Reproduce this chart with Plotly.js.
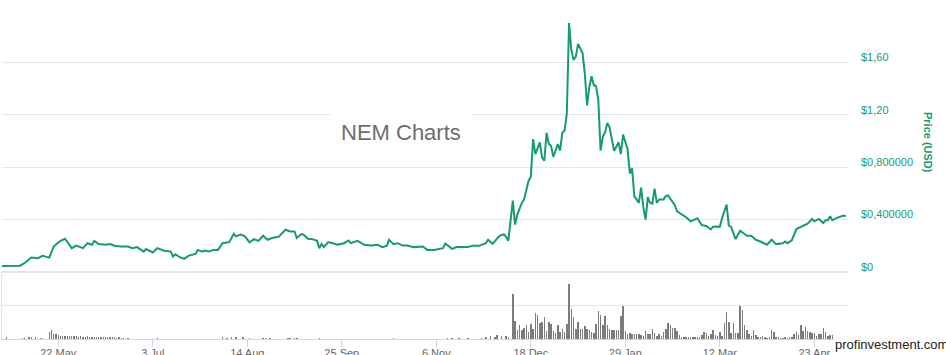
<!DOCTYPE html>
<html><head><meta charset="utf-8">
<script src="https://cdn.plot.ly/plotly-3.0.1.min.js"></script>
<style>html,body{margin:0;padding:0;background:#fff;overflow:hidden}#chart{width:946px;height:355px;}</style>
</head><body><div id="chart"></div>
<script>
const priceDates = ['2017-04-27','2017-05-05','2017-05-07','2017-05-10','2017-05-13','2017-05-15','2017-05-18','2017-05-20','2017-05-23','2017-05-25','2017-05-28','2017-05-30','2017-06-02','2017-06-04','2017-06-06','2017-06-07','2017-06-09','2017-06-12','2017-06-14','2017-06-16','2017-06-19','2017-06-22','2017-06-24','2017-06-26','2017-06-29','2017-06-30','2017-07-03','2017-07-05','2017-07-08','2017-07-11','2017-07-12','2017-07-13','2017-07-15','2017-07-17','2017-07-19','2017-07-22','2017-07-23','2017-07-25','2017-07-26','2017-07-28','2017-07-30','2017-08-01','2017-08-03','2017-08-06','2017-08-08','2017-08-09','2017-08-11','2017-08-13','2017-08-15','2017-08-17','2017-08-19','2017-08-21','2017-08-23','2017-08-25','2017-08-28','2017-08-31','2017-09-02','2017-09-04','2017-09-05','2017-09-07','2017-09-08','2017-09-10','2017-09-12','2017-09-14','2017-09-15','2017-09-16','2017-09-17','2017-09-19','2017-09-21','2017-09-23','2017-09-26','2017-09-28','2017-09-29','2017-10-02','2017-10-05','2017-10-08','2017-10-11','2017-10-13','2017-10-15','2017-10-16','2017-10-18','2017-10-20','2017-10-22','2017-10-24','2017-10-27','2017-10-31','2017-11-02','2017-11-05','2017-11-09','2017-11-10','2017-11-13','2017-11-15','2017-11-20','2017-11-22','2017-11-25','2017-11-28','2017-11-29','2017-12-01','2017-12-04','2017-12-06','2017-12-07','2017-12-08','2017-12-10','2017-12-11','2017-12-12','2017-12-14','2017-12-15','2017-12-17','2017-12-18','2017-12-19','2017-12-20','2017-12-22','2017-12-23','2017-12-24','2017-12-25','2017-12-26','2017-12-27','2017-12-28','2017-12-30','2017-12-31','2018-01-01','2018-01-02','2018-01-03','2018-01-04','2018-01-05','2018-01-06','2018-01-07','2018-01-08','2018-01-10','2018-01-11','2018-01-12','2018-01-13','2018-01-14','2018-01-15','2018-01-16','2018-01-17','2018-01-18','2018-01-19','2018-01-20','2018-01-21','2018-01-22','2018-01-23','2018-01-24','2018-01-25','2018-01-26','2018-01-27','2018-01-28','2018-01-30','2018-01-31','2018-02-01','2018-02-02','2018-02-04','2018-02-05','2018-02-06','2018-02-07','2018-02-08','2018-02-09','2018-02-10','2018-02-11','2018-02-12','2018-02-13','2018-02-15','2018-02-16','2018-02-17','2018-02-19','2018-02-20','2018-02-21','2018-02-23','2018-02-25','2018-02-27','2018-03-01','2018-03-02','2018-03-04','2018-03-06','2018-03-08','2018-03-09','2018-03-11','2018-03-12','2018-03-13','2018-03-15','2018-03-16','2018-03-17','2018-03-19','2018-03-21','2018-03-22','2018-03-24','2018-03-26','2018-03-28','2018-03-30','2018-04-02','2018-04-04','2018-04-06','2018-04-09','2018-04-10','2018-04-11','2018-04-13','2018-04-15','2018-04-17','2018-04-20','2018-04-22','2018-04-23','2018-04-25','2018-04-27','2018-04-28','2018-04-29','2018-04-30','2018-05-01','2018-05-03','2018-05-06','2018-05-07'];
const priceValues = [0.046,0.048,0.067,0.110,0.105,0.123,0.110,0.195,0.238,0.254,0.182,0.202,0.182,0.220,0.208,0.238,0.213,0.208,0.213,0.200,0.195,0.195,0.182,0.190,0.156,0.175,0.149,0.182,0.162,0.156,0.118,0.136,0.113,0.100,0.125,0.138,0.169,0.156,0.164,0.156,0.169,0.169,0.220,0.228,0.292,0.272,0.285,0.272,0.226,0.251,0.238,0.277,0.246,0.259,0.270,0.323,0.310,0.310,0.259,0.290,0.285,0.254,0.251,0.238,0.182,0.215,0.190,0.228,0.220,0.208,0.220,0.241,0.220,0.238,0.208,0.202,0.208,0.190,0.200,0.246,0.213,0.220,0.202,0.202,0.190,0.195,0.169,0.169,0.182,0.218,0.177,0.190,0.190,0.200,0.200,0.220,0.246,0.215,0.275,0.288,0.268,0.238,0.546,0.362,0.438,0.528,0.554,0.695,0.728,1.015,0.900,0.990,0.874,0.849,1.062,0.977,0.964,0.879,0.977,0.926,1.062,1.080,1.208,1.900,1.695,1.618,1.644,1.741,1.669,1.515,1.272,1.413,1.495,1.426,1.418,1.310,0.926,1.033,1.067,1.138,1.105,1.015,0.926,0.956,0.990,0.900,1.049,0.938,0.752,0.792,0.579,0.528,0.644,0.495,0.400,0.572,0.528,0.521,0.636,0.528,0.554,0.554,0.579,0.585,0.528,0.510,0.464,0.440,0.418,0.387,0.400,0.410,0.358,0.351,0.325,0.346,0.347,0.344,0.413,0.515,0.354,0.344,0.251,0.315,0.303,0.277,0.277,0.246,0.233,0.208,0.246,0.213,0.220,0.233,0.220,0.241,0.328,0.344,0.369,0.405,0.387,0.405,0.374,0.395,0.395,0.426,0.395,0.413,0.431,0.426];

const volEarlyDates = ['2017-04-29','2017-05-06','2017-05-07','2017-05-09','2017-05-10','2017-05-12','2017-05-14','2017-05-15','2017-05-18','2017-05-19','2017-05-20','2017-05-21','2017-05-22','2017-05-23','2017-05-24','2017-05-25','2017-05-26','2017-05-27','2017-05-28','2017-05-29','2017-05-30','2017-05-31','2017-06-01','2017-06-02','2017-06-03','2017-06-04','2017-06-05','2017-06-06','2017-06-07','2017-06-08','2017-06-09','2017-06-10','2017-06-11','2017-06-12','2017-06-13','2017-06-14','2017-06-15','2017-06-16','2017-06-17','2017-06-18','2017-06-19','2017-06-20','2017-06-22','2017-07-05','2017-08-03','2017-08-05','2017-08-07','2017-08-09','2017-08-12','2017-08-15','2017-08-21','2017-08-22','2017-08-24','2017-09-01','2017-09-02','2017-09-04','2017-09-05','2017-09-15','2017-10-18','2017-11-11','2017-11-13','2017-11-16','2017-11-20','2017-11-26','2017-11-28','2017-11-30','2017-12-02','2017-12-03','2017-12-05','2017-12-07','2017-12-08'];
const volEarlyValues = [5,3,3,5,7,5,3,3,20,28,16,15,12,10,9,10,8,9,8,9,8,7,8,7,7,8,6,7,6,7,6,6,5,6,5,5,6,5,4,5,4,3,4,3,6,4,7,5,5,4,4,3,4,4,3,4,3,4,3,3,4,3,4,3,7,10,5,13,8,10,7];
const volDailyStart = '2017-12-10';
const volDailyValues = [134,55,26,41,26,33,41,21,44,29,78,72,47,50,65,24,50,44,24,19,41,21,31,21,44,163,90,67,29,50,31,29,38,31,26,21,18,44,83,72,41,69,41,29,26,26,26,26,69,100,24,16,19,16,16,16,16,13,10,24,16,16,29,18,10,16,10,21,31,47,41,34,34,24,13,7,5,5,5,5,5,5,5,7,13,21,18,8,16,28,13,10,21,10,49,81,52,19,49,18,18,100,86,41,26,16,10,26,12,7,5,10,5,3,5,26,21,7,5,3,3,5,3,5,7,16,21,13,41,24,36,24,21,19,18,10,16,16,34,21,10,13,12,7,10,5,8,8,5];

const priceTickVals = [0, 0.4, 0.8, 1.2, 1.6, 2.0];
const priceTickText = ['$0', '$0,400000', '$0,800000', '$1,20', '$1,60', ''];
const dateTickStart = '2017-05-22';
const dateTickStepDays = 42;

// build volume series
const volDates = volEarlyDates.slice();
const volValues = volEarlyValues.slice();
const sp = volDailyStart.split('-').map(Number);
volDailyValues.forEach((v, i) => {
  const d = new Date(Date.UTC(sp[0], sp[1] - 1, sp[2] + i));
  volDates.push(d.toISOString().slice(0, 10));
  volValues.push(v);
});

const GREEN = '#159b70';
const FONT = 'Liberation Sans, Arial, sans-serif';
const DAY = 86400000;
const X_RANGE = ['2017-04-27 00:00', '2018-05-07 23:00'];

const traces = [
  {
    type: 'bar', x: volDates, y: volValues, xaxis: 'x', yaxis: 'y2',
    marker: {color: '#7c7c7c', line: {width: 0}}, width: DAY * 0.65,
    hoverinfo: 'skip'
  },
  {
    type: 'scatter', mode: 'lines', x: priceDates, y: priceValues, xaxis: 'x', yaxis: 'y',
    line: {color: GREEN, width: 2}, hoverinfo: 'skip'
  }
];

const layout = {
  width: 946, height: 355,
  margin: {l: 2, r: 98, t: 10, b: 16, pad: 0},
  paper_bgcolor: '#ffffff', plot_bgcolor: '#ffffff',
  showlegend: false,
  bargap: 0,
  font: {family: FONT, size: 11, color: '#666666'},
  xaxis: {
    type: 'date', anchor: 'y2',
    range: X_RANGE,
    tick0: dateTickStart, dtick: dateTickStepDays * DAY,
    tickformat: '%-d %b',
    ticks: 'outside', ticklen: 4, tickcolor: '#ccd6eb', tickwidth: 1,
    showline: true, linecolor: '#ccd6eb', linewidth: 1,
    showgrid: false, zeroline: false,
    tickfont: {family: FONT, size: 11, color: '#666666'}
  },
  xaxis2: {
    type: 'date', anchor: 'y2', overlaying: 'x',
    range: X_RANGE,
    tick0: dateTickStart, dtick: dateTickStepDays * DAY,
    ticks: 'outside', ticklen: 7, tickcolor: '#ccd6eb', tickwidth: 1,
    showticklabels: false, showline: false, showgrid: false, zeroline: false
  },
  yaxis: {
    domain: [0.2036, 1], range: [0, 2], side: 'right', anchor: 'x',
    tickmode: 'array', tickvals: priceTickVals, ticktext: priceTickText,
    showgrid: true, gridcolor: '#e6e6e6', gridwidth: 1,
    zeroline: true, zerolinecolor: '#e6e6e6', zerolinewidth: 2,
    showline: false, ticks: '',
    ticklabelstandoff: 12, ticklabelshift: -5,
    tickfont: {family: FONT, size: 11, color: GREEN}
  },
  yaxis2: {
    domain: [0, 0.2036], range: [0, 200], anchor: 'x', side: 'left',
    dtick: 100, tick0: 0, showticklabels: false, ticks: '',
    showgrid: true, gridcolor: '#e6e6e6', zeroline: false,
    showline: true, linecolor: '#e3e7f3', linewidth: 1
  },
  annotations: [
    {
      xref: 'paper', yref: 'paper', x: 0.4716, y: 0.629,
      xanchor: 'center', yanchor: 'middle',
      text: 'NEM Charts', showarrow: false,
      font: {family: FONT, size: 22, color: '#6e6e6e'},
      bgcolor: '#ffffff', borderpad: 10
    },
    {
      xref: 'paper', yref: 'paper', x: 0.9823, y: -0.0182,
      xanchor: 'left', yanchor: 'middle',
      text: 'profinvestment.com', showarrow: false,
      font: {family: FONT, size: 13, color: '#222222'},
      bgcolor: '#ffffff', borderpad: 1
    },
    {
      xref: 'paper', yref: 'paper', x: 1.0946, y: 0.5988,
      xanchor: 'center', yanchor: 'middle',
      text: '<b>Price (USD)</b>', showarrow: false, textangle: 90,
      font: {family: FONT, size: 11, color: GREEN}
    }
  ]
};

// invisible trace to activate the tick-only overlay axis
traces.push({type: 'scatter', mode: 'none', x: [X_RANGE[0]], y: [0], xaxis: 'x2', yaxis: 'y2', hoverinfo: 'skip', showlegend: false});

Plotly.newPlot('chart', traces, layout, {staticPlot: true, displayModeBar: false});
</script>
</body></html>
